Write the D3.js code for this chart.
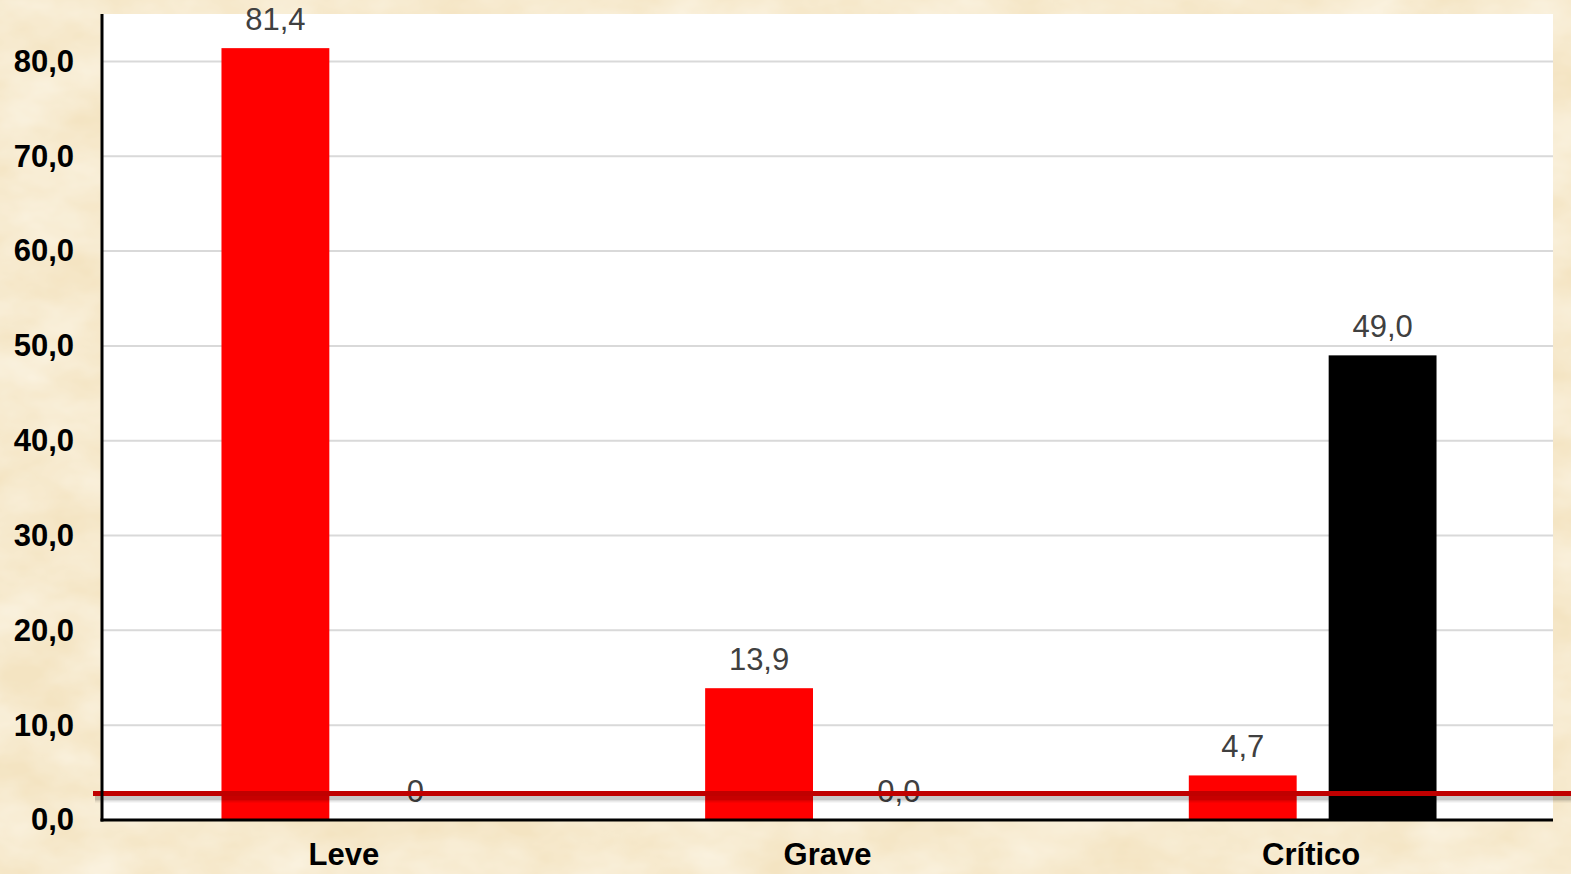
<!DOCTYPE html>
<html>
<head>
<meta charset="utf-8">
<script src="https://cdn.jsdelivr.net/npm/d3@7"></script>
<style>
  html, body { margin: 0; padding: 0; background: #f6e7c6; }
  svg { display: block; }
</style>
</head>
<body>
<svg id="chart" width="1571" height="874"></svg>
<script>
// Categories and the two series drawn side by side in each group
const categories = ["Leve", "Grave", "Crítico"];
const seriesRed = [81.4, 13.9, 4.7];
const seriesBlack = [0, 0, 49.0];
const labelsRed = ["81,4", "13,9", "4,7"];
const labelsBlack = ["0", "0,0", "49,0"];
const yTicks = [0, 10, 20, 30, 40, 50, 60, 70, 80];
const referenceLevel = [2.8];

const W = 1571, H = 874;
const margin = { left: 102, right: 18, top: 14, bottom: 54 };
const FONT = "Liberation Sans, Arial, sans-serif";
const svg = d3.select("#chart");

// Parchment background
const defs = svg.append("defs");
const f = defs.append("filter").attr("id", "parch").attr("x", 0).attr("y", 0).attr("width", "100%").attr("height", "100%");
f.append("feTurbulence").attr("type", "fractalNoise").attr("baseFrequency", "0.012 0.02").attr("numOctaves", 4).attr("seed", 7).attr("result", "n");
f.append("feColorMatrix").attr("in", "n").attr("type", "matrix")
  .attr("values", "0 0 0 0 1  0 0 0 0 0.98  0 0 0 0 0.92  0.9 0 0 0 -0.2");
svg.append("rect").attr("width", W).attr("height", H).attr("fill", "#f4e4c2");
svg.append("rect").attr("width", W).attr("height", H).attr("filter", "url(#parch)");

const x0 = d3.scaleBand().domain(categories).range([margin.left, W - margin.right]).paddingInner(0).paddingOuter(0);
const y = d3.scaleLinear().domain([0, 85]).range([H - margin.bottom, margin.top]);

const plotW = W - margin.right - margin.left;
// White plot area
svg.append("rect").attr("x", margin.left).attr("y", margin.top)
  .attr("width", plotW).attr("height", y(0) - margin.top).attr("fill", "#ffffff");

// Gridlines
svg.append("g").selectAll("line").data(yTicks.filter(d => d > 0)).join("line")
  .attr("x1", margin.left).attr("x2", W - margin.right)
  .attr("y1", d => y(d)).attr("y2", d => y(d))
  .attr("stroke", "#d9d9d9").attr("stroke-width", 2);

// Bars
const bw = x0.bandwidth();
const barW = bw * 0.223;
const gap = 32;
const redX = c => x0(c) + bw / 2 - 14.5 - barW;
const blackX = c => redX(c) + barW + gap;

svg.append("g").selectAll("rect").data(categories).join("rect")
  .attr("x", c => redX(c)).attr("width", barW)
  .attr("y", (c, i) => y(seriesRed[i])).attr("height", (c, i) => y(0) - y(seriesRed[i]))
  .attr("fill", "#ff0000");
svg.append("g").selectAll("rect").data(categories).join("rect")
  .attr("x", c => blackX(c)).attr("width", barW)
  .attr("y", (c, i) => y(seriesBlack[i])).attr("height", (c, i) => y(0) - y(seriesBlack[i]))
  .attr("fill", "#000000");

// Value labels
const lab = svg.append("g").attr("font-family", FONT)
  .attr("font-size", 31).attr("fill", "#404040").attr("text-anchor", "middle");
lab.selectAll("text.r").data(categories).join("text").attr("class", "r")
  .attr("x", c => redX(c) + barW / 2).attr("y", (c, i) => y(seriesRed[i]) - 18)
  .text((c, i) => labelsRed[i]);
lab.selectAll("text.b").data(categories).join("text").attr("class", "b")
  .attr("x", c => blackX(c) + barW / 2).attr("y", (c, i) => y(seriesBlack[i]) - 18)
  .text((c, i) => labelsBlack[i]);

// Reference line across the chart, with a soft shadow band under it
const ref = svg.append("g");
ref.selectAll("rect.sh").data(referenceLevel).join("rect").attr("class", "sh")
  .attr("x", 95).attr("width", W - 95)
  .attr("y", d => y(d) + 2).attr("height", 5)
  .attr("fill", "#000").attr("fill-opacity", 0.22);
ref.selectAll("rect.sh2").data(referenceLevel).join("rect").attr("class", "sh2")
  .attr("x", 95).attr("width", W - 95)
  .attr("y", d => y(d) + 7).attr("height", 2)
  .attr("fill", "#000").attr("fill-opacity", 0.08);
ref.selectAll("line").data(referenceLevel).join("line")
  .attr("x1", 93).attr("x2", W)
  .attr("y1", d => y(d)).attr("y2", d => y(d))
  .attr("stroke", "#c00000").attr("stroke-width", 5);

// Y axis
const yAxis = d3.axisLeft(y).tickValues(yTicks).tickSize(0).tickPadding(28)
  .tickFormat(d => d3.format(".1f")(d).replace(".", ","));
const gy = svg.append("g").attr("transform", `translate(${margin.left},0)`).call(yAxis);
gy.select(".domain").remove();
gy.selectAll("text").attr("font-family", FONT)
  .attr("font-size", 31).attr("font-weight", "bold").attr("fill", "#000");
svg.append("line").attr("x1", margin.left).attr("x2", margin.left)
  .attr("y1", margin.top).attr("y2", y(0) + 1.5).attr("stroke", "#000").attr("stroke-width", 3);

// X axis
const xAxis = d3.axisBottom(x0).tickSize(0).tickPadding(23);
const gx = svg.append("g").attr("transform", `translate(0,${y(0)})`).call(xAxis);
gx.select(".domain").remove();
gx.selectAll("text").attr("font-family", FONT)
  .attr("font-size", 31).attr("font-weight", "bold").attr("fill", "#000");
svg.append("line").attr("x1", margin.left - 1.5).attr("x2", W - margin.right)
  .attr("y1", y(0)).attr("y2", y(0)).attr("stroke", "#000").attr("stroke-width", 3);
</script>
</body>
</html>
